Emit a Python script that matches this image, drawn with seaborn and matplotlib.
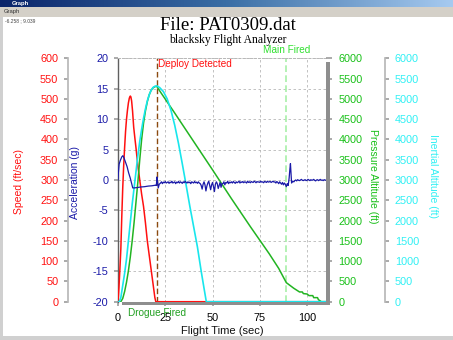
import numpy as np
import matplotlib
matplotlib.use("Agg")
import matplotlib.pyplot as plt
from matplotlib.patches import Rectangle
import matplotlib.transforms as mtransforms
import seaborn as sns

# ---------------- flight data ----------------
# Speed (ft/sec)
speed_time = [0, 0.5, 1, 1.5, 2, 2.5, 3, 3.5, 4, 4.5, 5, 5.5, 6, 6.5, 6.8, 7.2,
              7.7, 8.3, 9, 9.5, 10.5, 11.5, 12.5, 13.5, 14.5, 15.5, 16.5, 17.5,
              18.5, 19.5, 20.0, 110]
speed_fps = [0, 35, 80, 130, 210, 280, 335, 380, 420, 450, 472, 490, 502, 507,
             505, 495, 470, 430, 400, 380, 335, 300, 265, 235, 195, 150, 115, 80,
             45, 10, 0, 0]

# Pressure altitude (ft)
press_time = [0, 1.5, 2.5, 3.5, 4.5, 5.5, 6.5, 7.5, 8.5, 9.5, 10.5, 11.5, 12.5,
              13.5, 14.5, 15.5, 16.5, 17.5, 18.5, 19.5, 20.5, 22, 30, 40, 50, 60,
              70, 80, 85, 89, 91, 93, 96, 97.5, 98, 100, 101, 103, 103.5, 105.5,
              106, 107.5, 110]
press_alt = [0, 0, 80, 250, 480, 760, 1100, 1500, 1950, 2450, 2950, 3500, 4000,
             4400, 4700, 4930, 5100, 5210, 5270, 5300, 5310, 5200, 4650, 3950,
             3250, 2540, 1850, 1180, 820, 470, 400, 330, 240, 240, 200, 190, 150,
             150, 100, 100, 50, 0, 0]

# Inertial altitude (ft)
inert_time = [0, 0.7, 1.5, 2.5, 3.5, 4.5, 5.5, 6.5, 7.5, 8.5, 9.5, 10.5, 11.5,
              12.5, 13.5, 14.5, 15.5, 16.5, 17.5, 18.5, 19.5, 20.5, 22, 24, 26,
              28, 30, 32, 34, 36, 38, 40, 42, 44, 45.5, 46.7, 110]
inert_alt = [0, 0, 100, 400, 700, 1050, 1500, 1950, 2400, 2800, 3200, 3600, 3950,
             4250, 4520, 4750, 4950, 5100, 5210, 5280, 5310, 5320, 5280, 5180,
             5000, 4720, 4350, 3900, 3400, 2880, 2350, 1850, 1350, 750, 330, 0, 0]

# Acceleration (g): boost / coast
accel_boost_time = [0.0, 0.2, 0.6, 1.2, 2.0, 2.6, 3.2, 4.0, 4.8, 5.6, 6.5, 7.2,
                    7.8, 8.5, 10.0, 12.0, 14.0, 16.0, 18.0, 19.8, 20.3, 20.6,
                    20.9, 21.3, 21.8]
accel_boost_g = [0.0, 1.2, 2.6, 3.2, 3.8, 4.0, 3.6, 2.9, 2.2, 1.2, 0.3, -0.6,
                 -1.3, -1.3, -1.25, -1.15, -1.1, -1.0, -0.95, -0.85, -0.9, 0.5,
                 -0.2, -1.3, -0.7]
# drogue descent, sampled every 0.5 s from 22.5 s
accel_drogue_g = [-0.5, -0.3, -0.6, -0.35, -0.45, -0.25, -0.5, -0.4, -0.3, -0.55,
                  -0.35, -0.45, -0.2, -0.5, -0.4, -0.3, -0.6, -0.35, -0.45, -0.25,
                  -0.5, -0.3, -0.4, -0.55, -0.3, -0.45, -0.2, -0.4, -0.5, -0.3,
                  -0.45, -0.35, -0.6, -0.3, -0.4, -0.5, -0.25, -0.45, -0.35, -0.55,
                  -0.3, -0.5,
                  -0.6, -0.9, -1.5, -0.7, -0.3, -0.8, -1.8, -1.0, -0.5, -0.2,
                  -0.9, -1.6, -0.8, -0.4, -1.1, -1.9, -0.7, -0.3, -0.6, -1.4,
                  -0.9, -0.4, -1.2, -0.6,
                  -0.6, -0.3, -0.8, -0.4, -0.5, -0.2, -0.6, -0.35, -0.45, -0.3,
                  -0.5, -0.25, -0.4, -0.55, -0.3, -0.45, -0.35, -0.2, -0.5, -0.3,
                  -0.4, -0.25, -0.45, -0.3, -0.35, -0.5, -0.2, -0.4, -0.3, -0.45,
                  -0.25, -0.35, -0.4, -0.2, -0.3, -0.45, -0.25, -0.35, -0.3, -0.4,
                  -0.2, -0.35, -0.3, -0.45, -0.25, -0.3, -0.4, -0.2, -0.35, -0.3,
                  -0.25, -0.4, -0.3, -0.2, -0.35, -0.3, -0.5, -0.25, -0.4, -0.6,
                  -0.3, -0.5, -0.7, -0.4, -0.8, -0.5]
# main deployment shock
accel_main_time = [88.5, 89.0, 89.5, 90.0, 90.5, 90.9, 91.2, 91.5, 91.8, 92.3, 93.0]
accel_main_g = [-0.7, -1.1, -0.6, -0.9, 0.3, 1.8, 2.7, 1.0, -0.5, -0.2, -0.3]
# main descent, sampled every 0.5 s from 93.5 s
accel_landing_g = [-0.1, 0.0, -0.15, 0.05, -0.05, -0.1, 0.0, 0.1, -0.05, -0.1,
                   0.0, 0.05, -0.1, -0.05, 0.1, 0.0, -0.1, 0.05, -0.05, 0.0,
                   0.1, -0.05, -0.15, 0.0, 0.05, -0.1, 0.0, 0.1, -0.05, 0.0,
                   -0.1, 0.05, 0.0, -0.05]

deploy_time = 20.4
drogue_time = 20.6
main_time = 89.1

x_ticks = [0, 25, 50, 75, 100]

accel_time = np.concatenate([
    accel_boost_time,
    22.5 + 0.5 * np.arange(len(accel_drogue_g)),
    accel_main_time,
    93.5 + 0.5 * np.arange(len(accel_landing_g)),
])
accel_g = np.concatenate([accel_boost_g, accel_drogue_g, accel_main_g, accel_landing_g])

# ---------------- styling ----------------
sns.set_theme(style="white")
plt.rcParams["font.family"] = ["Liberation Sans", "DejaVu Sans"]
plt.rcParams["axes.unicode_minus"] = False

RED = "#ff1010"
NAVY = "#1a1aa8"
GREEN = "#22b422"
GREEN_TXT = "#18c018"
CYAN = "#18e6ec"
CYAN_TXT = "#30f0f4"
GRID = "#b8b8b8"
TICK = "#a0a0a0"

W_PX, H_PX = 453, 340
fig = plt.figure(figsize=(W_PX / 100, H_PX / 100), dpi=100, facecolor="white")

def fx(px):
    return px / W_PX

def fy(py):
    return 1 - py / H_PX

# window frame
bar = fig.add_axes([0, fy(7), 1, 7 / H_PX])
bar.imshow(np.linspace(0, 1, 256)[None, :], aspect="auto",
           cmap=matplotlib.colors.LinearSegmentedColormap.from_list(
               "tb", ["#0a246a", "#3a6ea5", "#a6caf0"]), extent=[0, 1, 0, 1])
bar.set_axis_off()
bar.text(0.025, 0.5, "Graph", color="white", fontsize=4.2, fontweight="bold",
         va="center", ha="left", transform=bar.transAxes)
fig.patches.append(Rectangle((0, fy(17)), 1, 10 / H_PX, transform=fig.transFigure,
                             facecolor="#d4d0c8", edgecolor="none", zorder=0))
fig.text(fx(4), fy(12), "Graph", fontsize=4.2, color="#333333", va="center")
fig.patches.append(Rectangle((0, 0), fx(3), fy(17), transform=fig.transFigure,
                             facecolor="#d0d0d0", edgecolor="none", zorder=0))
fig.patches.append(Rectangle((0, 0), 1, 4 / H_PX, transform=fig.transFigure,
                             facecolor="#d0d0d0", edgecolor="none", zorder=0))
fig.text(fx(5), fy(21), "-6.258 ; 9.039", fontsize=3.5, color="#444444", va="center")

# plot area
L, R, T, B = 118, 326, 58.3, 301.7
ax = fig.add_axes([fx(L), fy(B), fx(R) - fx(L), fy(T) - fy(B)])
ax.patch.set_visible(False)
ax_speed = ax.twinx()
ax_press = ax.twinx()
ax_inert = ax.twinx()
ax_acc = ax.twinx()

# shadow band under and right of the plot area
fig.patches.append(Rectangle((fx(122), fy(305)), fx(330) - fx(122), 3.5 / H_PX,
                             transform=fig.transFigure, facecolor="#8e8e8e",
                             edgecolor="none", zorder=1))
fig.patches.append(Rectangle((fx(326), fy(305)), 3.5 / W_PX, fy(61.7) - fy(305),
                             transform=fig.transFigure, facecolor="#8e8e8e",
                             edgecolor="none", zorder=1))

# curves
sns.lineplot(x=speed_time, y=speed_fps, ax=ax_speed, color=RED, lw=1.1,
             estimator=None, sort=False)
sns.lineplot(x=press_time, y=press_alt, ax=ax_press, color=GREEN, lw=1.1,
             estimator=None, sort=False)
sns.lineplot(x=inert_time, y=inert_alt, ax=ax_inert, color=CYAN, lw=1.2,
             estimator=None, sort=False)
sns.lineplot(x=accel_time, y=accel_g, ax=ax_acc, color=NAVY, lw=0.9,
             estimator=None, sort=False)

# event markers
ax.axvline(deploy_time, color="#8b4a10", lw=1.0, ls=(0, (4, 2)), zorder=1)
ax.axvline(main_time, color="#a8f0a8", lw=1.2, ls=(0, (4, 2)), zorder=1)
blend = mtransforms.blended_transform_factory(ax.transData, ax.transAxes)
ax.text(deploy_time + 0.6, 0.977, "Deploy Detected", color=RED, fontsize=7.2,
        ha="left", va="center", transform=blend)
ax.text(main_time, 1.034, "Main Fired", color="#30e030", fontsize=7.2,
        ha="center", va="center", transform=blend, clip_on=False)
ax.text(drogue_time, -0.045, "Drogue Fired", color="#22a022", fontsize=7.2,
        ha="center", va="center", transform=blend, clip_on=False)

# x axis / acceleration axis with grid
ax.set_xlim(0, 110)
ax.set_xticks(x_ticks)
ax.set_ylim(-20, 20)
ax.set_yticks(range(-20, 21, 5))
ax.grid(True, color=GRID, ls=(0, (3, 3)), lw=0.6)
ax.tick_params(axis="x", colors=TICK, labelcolor="black", labelsize=7.8,
               length=3, pad=5, direction="out", bottom=True)
ax.tick_params(axis="y", colors=TICK, labelcolor=NAVY, labelsize=7.8,
               length=3, pad=4, direction="out", left=True)
ax.set_xlabel("Flight Time (sec)", fontsize=8, color="#111111")
ax.set_ylabel("Acceleration (g)", fontsize=7.5, color=NAVY)
ax.yaxis.set_label_coords((80 - L) / (R - L), (B - 183) / (B - T))
ax.xaxis.set_label_coords(((222 - L) / (R - L)), (B - 326.5) / (B - T))
for s in ["right", "bottom"]:
    ax.spines[s].set_visible(False)
ax.spines["left"].set_color("#606060")
ax.spines["left"].set_linestyle((0, (1, 1)))
ax.spines["left"].set_linewidth(1.0)
ax.spines["top"].set_color(GRID)
ax.spines["top"].set_linestyle((0, (2, 2)))
ax.spines["top"].set_linewidth(0.7)

# speed axis (far left)
ax_speed.set_ylim(0, 600)
ax_speed.set_yticks(range(0, 601, 50))
ax_speed.yaxis.set_ticks_position("left")
ax_speed.yaxis.set_label_position("left")
ax_speed.spines["left"].set_position(("axes", (68 - L) / (R - L)))
ax_speed.spines["left"].set_visible(True)
ax_speed.spines["left"].set_color("#b8b8b8")
ax_speed.spines["left"].set_linestyle((0, (1, 1)))
ax_speed.tick_params(axis="y", colors=TICK, labelcolor=RED, labelsize=7.8,
                     length=3, pad=4, direction="out")
ax_speed.set_ylabel("Speed (ft/sec)", fontsize=7.5, color=RED)
ax_speed.yaxis.set_label_coords((24 - L) / (R - L), (B - 182) / (B - T))

# pressure altitude axis (right)
ax_press.set_ylim(0, 6000)
ax_press.set_yticks(range(0, 6001, 500))
ax_press.tick_params(axis="y", colors=TICK, labelcolor=GREEN_TXT, labelsize=7.8,
                     length=4, pad=5, direction="out")
ax_press.set_ylabel("Pressure Altitude (ft)", fontsize=7.5, color=GREEN_TXT,
                    rotation=270, va="center")
ax_press.yaxis.set_label_coords((373 - L) / (R - L), (B - 176.5) / (B - T))

# inertial altitude axis (far right)
ax_inert.set_ylim(0, 6000)
ax_inert.set_yticks(range(0, 6001, 500))
ax_inert.spines["right"].set_position(("axes", (385 - L) / (R - L)))
ax_inert.spines["right"].set_visible(True)
ax_inert.spines["right"].set_color("#b8b8b8")
ax_inert.spines["right"].set_linestyle((0, (1, 1)))
ax_inert.tick_params(axis="y", colors=TICK, labelcolor=CYAN_TXT, labelsize=7.8,
                     length=3, pad=4, direction="out")
ax_inert.set_ylabel("Inertial Altitude (ft)", fontsize=7.5, color=CYAN_TXT,
                    rotation=270, va="center")
ax_inert.yaxis.set_label_coords((433 - L) / (R - L), (B - 176) / (B - T))

# acceleration curve overlay shares the acceleration scale
ax_acc.set_ylim(-20, 20)
ax_acc.set_yticks([])
ax_acc.set_ylabel("")

for a, keep in [(ax_speed, "left"), (ax_press, None), (ax_inert, "right"), (ax_acc, None)]:
    for s in ["left", "right", "top", "bottom"]:
        if s != keep:
            a.spines[s].set_visible(False)
    a.set_xlim(0, 110)

# titles
fig.text(0.503, fy(25.5), "File: PAT0309.dat", fontsize=13.5, family="Liberation Serif",
         ha="center", va="center", color="black")
fig.text(0.503, fy(39.5), "blacksky Flight Analyzer", fontsize=8.4,
         family="Liberation Serif", ha="center", va="center", color="black")

fig.savefig("out.png", dpi=100, facecolor="white")
